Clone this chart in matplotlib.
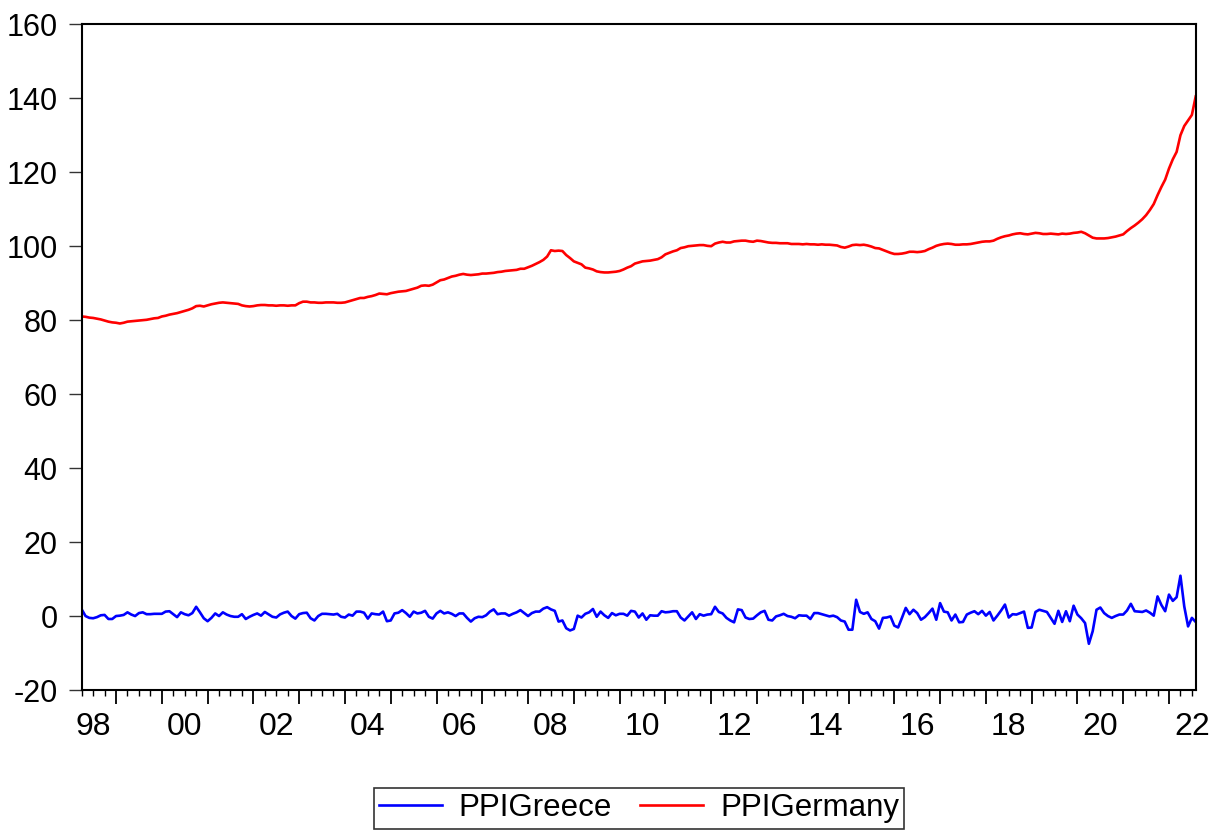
import numpy as np
import pandas as pd
import matplotlib
matplotlib.use("Agg")
import matplotlib.pyplot as plt
from matplotlib.ticker import FixedLocator, NullFormatter

plt.rcParams['font.family'] = ['Liberation Sans', 'DejaVu Sans']

# Monthly observations 1998M04 .. 2022M08
dates = pd.date_range("1998-04-01", "2022-08-01", freq="MS")

ppi_greece = [
    1.8, 0.0, -0.5, -0.6, -0.3, 0.2, 0.3, -0.8, -0.8,                 # 1998
    0.0, 0.1, 0.3, 1.0, 0.4, 0.0, 0.8, 1.0, 0.5, 0.5, 0.6, 0.6,       # 1999
    0.6, 1.2, 1.3, 0.5, -0.3, 1.0, 0.5, 0.2, 0.8, 2.5, 1.0, -0.6,     # 2000
    -1.4, -0.5, 0.7, 0.0, 1.0, 0.4, 0.0, -0.2, -0.2, 0.5, -0.8, -0.2, # 2001
    0.3, 0.7, 0.1, 1.1, 0.45, -0.2, -0.4, 0.45, 0.9, 1.2, 0.0, -0.7,  # 2002
    0.5, 0.8, 0.9, -0.6, -1.2, 0.0, 0.6, 0.6, 0.5, 0.4, 0.6, -0.2,    # 2003
    -0.4, 0.4, 0.1, 1.2, 1.2, 0.9, -0.7, 0.7, 0.5, 0.4, 1.2, -1.4,    # 2004
    -1.2, 0.7, 0.9, 1.6, 0.8, -0.2, 1.2, 0.7, 0.9, 1.4, -0.2, -0.7,   # 2005
    0.7, 1.4, 0.7, 1.0, 0.6, 0.0, 0.7, 0.7, -0.5, -1.5, -0.6, -0.2,   # 2006
    -0.3, 0.2, 1.2, 1.8, 0.5, 0.7, 0.7, 0.1, 0.6, 1.0, 1.6, 0.8,      # 2007
    0.0, 0.8, 1.2, 1.2, 2.0, 2.4, 1.8, 1.4, -1.5, -1.2, -3.3, -3.9,   # 2008
    -3.5, 0.1, -0.4, 0.6, 1.0, 1.9, -0.2, 1.2, 0.2, -0.5, 0.8, 0.2,   # 2009
    0.6, 0.6, 0.1, 1.4, 1.2, -0.4, 0.7, -1.0, 0.2, 0.1, 0.1, 1.3,     # 2010
    1.0, 1.1, 1.3, 1.3, -0.4, -1.2, -0.1, 1.0, -0.8, 0.5, 0.1, 0.4,   # 2011
    0.5, 2.5, 1.1, 0.7, -0.5, -1.2, -1.7, 1.8, 1.6, -0.4, -0.8, -0.7, # 2012
    0.2, 1.0, 1.4, -1.0, -1.2, -0.1, 0.2, 0.6, 0.0, -0.2, -0.6, 0.2,  # 2013
    0.1, 0.1, -0.8, 0.8, 0.8, 0.5, 0.2, -0.1, 0.1, -0.3, -1.2, -1.5,  # 2014
    -3.7, -3.7, 4.4, 1.1, 0.6, 1.0, -0.8, -1.4, -3.4, -0.5, -0.4, -0.1,  # 2015
    -2.6, -3.1, -0.5, 2.2, 0.5, 1.7, 0.8, -1.0, -0.3, 0.8, 2.0, -1.0, # 2016
    3.5, 1.2, 1.0, -1.2, 0.4, -1.7, -1.6, 0.4, 0.9, 1.3, 0.5, 1.4,    # 2017
    0.1, 1.1, -1.2, 0.1, 1.5, 3.1, -0.4, 0.5, 0.4, 0.8, 1.2, -3.2,    # 2018
    -3.1, 1.1, 1.7, 1.4, 1.1, -0.5, -2.1, 1.4, -1.6, 1.3, -1.4, 2.8,  # 2019
    0.4, -0.6, -1.9, -7.5, -4.1, 1.7, 2.3, 0.8, 0.0, -0.5, 0.0, 0.4,  # 2020
    0.4, 1.5, 3.3, 1.3, 1.2, 1.1, 1.5, 0.9, 0.1, 5.3, 3.0, 1.3,       # 2021
    5.8, 4.1, 5.1, 10.9, 2.6, -2.8, -0.5, -1.6,                       # 2022
]

ppi_germany = [
    81.0, 80.9, 80.7, 80.6, 80.4, 80.2, 79.9, 79.6, 79.4,                    # 1998
    79.3, 79.1, 79.3, 79.6, 79.7, 79.8, 79.9, 80.0, 80.1, 80.3, 80.5, 80.6,  # 1999
    81.0, 81.2, 81.5, 81.7, 81.9, 82.2, 82.5, 82.8, 83.2, 83.8, 83.9, 83.7,  # 2000
    84.0, 84.3, 84.5, 84.7, 84.8, 84.7, 84.6, 84.5, 84.4, 84.0, 83.8, 83.7,  # 2001
    83.8, 84.0, 84.1, 84.1, 84.0, 84.0, 83.9, 84.0, 84.0, 83.9, 84.0, 84.0,  # 2002
    84.6, 85.0, 85.0, 84.8, 84.8, 84.7, 84.7, 84.8, 84.8, 84.8, 84.7, 84.7,  # 2003
    84.8, 85.1, 85.4, 85.7, 86.0, 86.0, 86.3, 86.5, 86.8, 87.2, 87.1, 87.0,  # 2004
    87.3, 87.5, 87.7, 87.8, 87.9, 88.2, 88.5, 88.8, 89.3, 89.4, 89.3, 89.6,  # 2005
    90.2, 90.8, 91.0, 91.4, 91.8, 92.0, 92.3, 92.5, 92.3, 92.2, 92.3, 92.4,  # 2006
    92.6, 92.6, 92.7, 92.8, 93.0, 93.1, 93.3, 93.4, 93.5, 93.6, 93.9, 93.9,  # 2007
    94.3, 94.7, 95.2, 95.7, 96.3, 97.2, 98.9, 98.7, 98.8, 98.7, 97.6, 96.8,  # 2008
    95.9, 95.5, 95.1, 94.2, 94.0, 93.7, 93.2, 93.0, 92.9, 92.9, 93.0, 93.1,  # 2009
    93.3, 93.7, 94.2, 94.6, 95.3, 95.6, 95.9, 96.0, 96.1, 96.3, 96.5, 97.0,  # 2010
    97.8, 98.2, 98.6, 98.9, 99.5, 99.7, 100.0, 100.1, 100.2, 100.3, 100.3, 100.1,  # 2011
    100.0, 100.7, 101.0, 101.2, 101.0, 101.0, 101.3, 101.4, 101.5, 101.5, 101.3, 101.2,  # 2012
    101.5, 101.4, 101.2, 101.0, 100.9, 100.9, 100.8, 100.8, 100.8, 100.6, 100.6, 100.6,  # 2013
    100.5, 100.6, 100.5, 100.5, 100.4, 100.5, 100.4, 100.4, 100.3, 100.2, 99.8, 99.6,    # 2014
    99.9, 100.3, 100.4, 100.3, 100.4, 100.2, 99.9, 99.5, 99.4, 99.0, 98.6, 98.2,         # 2015
    97.9, 97.9, 98.0, 98.2, 98.5, 98.5, 98.4, 98.5, 98.7, 99.2, 99.6, 100.1,             # 2016
    100.4, 100.6, 100.7, 100.6, 100.4, 100.4, 100.5, 100.5, 100.6, 100.8, 101.0, 101.2,  # 2017
    101.3, 101.3, 101.5, 102.0, 102.4, 102.7, 102.9, 103.2, 103.4, 103.5, 103.3, 103.2,  # 2018
    103.4, 103.6, 103.5, 103.3, 103.3, 103.4, 103.3, 103.2, 103.4, 103.3, 103.4, 103.6,  # 2019
    103.7, 103.9, 103.5, 102.9, 102.3, 102.1, 102.1, 102.1, 102.2, 102.4, 102.6, 102.9,  # 2020
    103.2, 104.1, 104.9, 105.6, 106.4, 107.3, 108.4, 109.8, 111.4, 113.8, 116.0, 118.0,  # 2021
    121.0, 123.5, 125.5, 130.0, 132.5, 134.0, 135.5, 140.5,                              # 2022
]

y_ticks = [-20, 0, 20, 40, 60, 80, 100, 120, 140, 160]
x_label_years = list(range(1998, 2023, 2))
x_labels = [f"{y % 100:02d}" for y in x_label_years]

# decimal-year positions of observations
t = dates.year + (dates.month - 1) / 12.0

fig = plt.figure(figsize=(12.19, 8.35), dpi=100)
ax = fig.add_axes([81.7 / 1219, 1 - 690 / 835, (1195.7 - 81.7) / 1219, (690 - 24.3) / 835])

ax.plot(t, ppi_greece, color="#0000ff", lw=1.9, label="PPIGreece")
ax.plot(t, ppi_germany, color="#ff0000", lw=1.9, label="PPIGermany")

ax.set_xlim(t[0], t[-1])
ax.set_ylim(-20, 160)

for s in ax.spines.values():
    s.set_linewidth(1.5)
    s.set_color("black")

ax.set_yticks(y_ticks)
ax.set_yticklabels([str(v) for v in y_ticks])
ax.tick_params(axis="y", direction="out", length=9.5, width=1.0, pad=8,
               labelsize=22, color="#333333")

years = np.arange(1999, 2023)
quarters = [y + q / 4 for y in range(1998, 2023) for q in (1, 2, 3)]
quarters = [q for q in quarters if t[0] <= q <= t[-1] + 1e-9]
ax.xaxis.set_major_locator(FixedLocator(years))
ax.xaxis.set_minor_locator(FixedLocator(quarters))
ax.xaxis.set_major_formatter(NullFormatter())
ax.tick_params(axis="x", which="major", direction="out", length=10, width=1.3)
ax.tick_params(axis="x", which="minor", direction="out", length=4, width=1.0)

sec = ax.secondary_xaxis("bottom")
sec.set_xticks([y + 0.5 for y in x_label_years])
sec.set_xticklabels(x_labels)
sec.tick_params(axis="x", length=0, pad=16, labelsize=23)
sec.spines["bottom"].set_visible(False)

leg = fig.legend(loc="upper center", bbox_to_anchor=(639 / 1219, 1 - 788 / 835),
                 ncol=2, fontsize=22.5, frameon=True, fancybox=False,
                 edgecolor="black", handlelength=2.0, handletextpad=0.55,
                 columnspacing=0.9, borderpad=0.17, borderaxespad=0.0)
leg.get_frame().set_linewidth(1.2)
for h in leg.get_lines():
    h.set_linewidth(1.9)

fig.savefig("out.png", dpi=100)
